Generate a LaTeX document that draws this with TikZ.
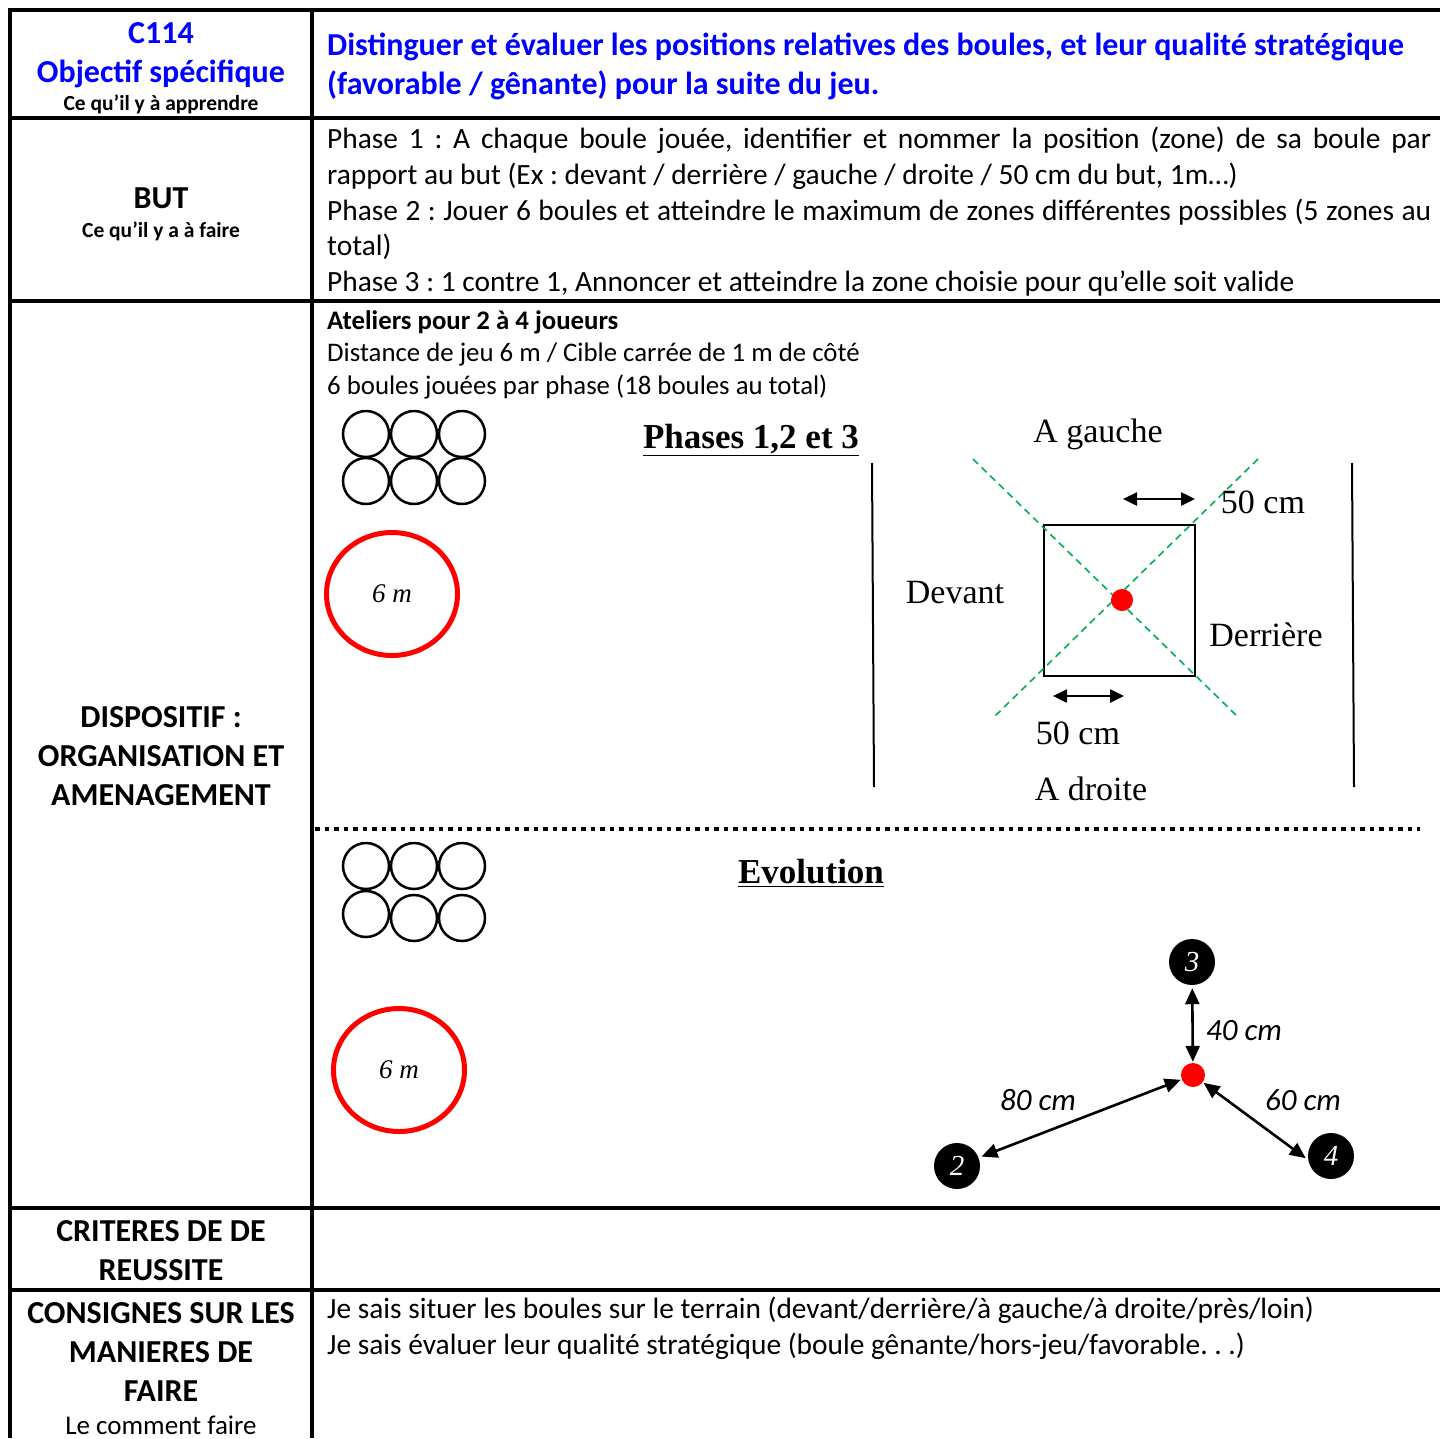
\documentclass[tikz,border=0pt]{standalone}
\usepackage{fontspec}
\setmainfont{Carlito}
\newfontfamily\serifcam{Liberation Serif}
\usepackage{xcolor}
\usepackage{tikz}
\usetikzlibrary{shapes.geometric, arrows.meta, positioning}
\definecolor{objblue}{RGB}{0,0,255}
\definecolor{zonegreen}{RGB}{0,176,80}
\definecolor{butred}{RGB}{255,0,0}
\frenchspacing

\begin{document}
\begin{tikzpicture}[x=1pt, y=-1pt,
        rule/.style={line width=3.8pt},
        titre/.style={font=\fontsize{32}{39}\selectfont\bfseries, text=objblue, inner sep=0pt},
        entete/.style={font=\fontsize{32}{39}\selectfont\bfseries, align=center, inner sep=0pt},
        petit/.style={font=\fontsize{21.5}{26}\selectfont\bfseries, inner sep=0pt},
        texte/.style={font=\fontsize{29.4}{35.7}\selectfont, inner sep=0pt},
        atelier/.style={font=\fontsize{26.8}{32.5}\selectfont, inner sep=0pt, align=left},
        boule/.style={circle, draw, line width=2.5pt, minimum size=46pt, inner sep=0pt},
        cible/.style={ellipse, draw=butred, line width=5pt, minimum width=131pt, minimum height=123pt, inner sep=0pt, font=\fontsize{27}{30}\selectfont\serifcam\itshape},
        zone/.style={font=\fontsize{34}{38}\selectfont\serifcam, inner sep=0pt},
        titreschema/.style={font=\fontsize{35}{40}\selectfont\serifcam\bfseries, inner sep=0pt},
        diag/.style={zonegreen, line width=1.6pt, dash pattern=on 7pt off 5pt},
        cote/.style={{Triangle[length=14pt,width=13pt]}-{Triangle[length=14pt,width=13pt]}, line width=2.5pt},
        joueur/.style={circle, fill=black, minimum size=46pt, inner sep=0pt, text=white, font=\fontsize{29}{32}\selectfont\serifcam\itshape},
        mesure/.style={font=\fontsize{31}{36}\selectfont\itshape, inner sep=0pt},
        fleche/.style={{Triangle[length=16pt,width=14pt]}-{Triangle[length=16pt,width=14pt]}, line width=2.6pt, shorten >=3pt, shorten <=1pt}
    ]
    \fill[white] (0,0) rectangle (1440,1438);
    \useasboundingbox (0,0) rectangle (1440,1438);

    % grille du tableau
    \draw[rule] (8,10) -- (1440,10);
    \draw[rule] (10,8) -- (10,1438);
    \draw[rule] (312,10) -- (312,1438);
    \foreach \y in {118,301,1208,1290}
        \draw[rule] (10,\y) -- (1440,\y);

    % colonne de gauche
    \node[titre, anchor=base] (code) at (161,43) {C114};
    \node[titre, anchor=base] (objectif) at (161,82) {Objectif spécifique};
    \node[petit, anchor=base] (apprendre) at (161,110) {Ce qu’il y à apprendre};
    \node[entete, anchor=base] (but) at (161,208) {BUT};
    \node[petit, anchor=base] (faire) at (161,237) {Ce qu’il y a à faire};
    \node[entete, anchor=north] (dispositif) at (161,706) {DISPOSITIF :\\ORGANISATION ET\\AMENAGEMENT};
    \node[entete, anchor=north] (criteres) at (161,1220) {CRITERES DE DE\\REUSSITE};
    \node[entete, anchor=north] (consignes) at (161,1302) {CONSIGNES SUR LES\\MANIERES DE\\FAIRE};
    \node[font=\fontsize{27}{30}\selectfont, inner sep=0pt, anchor=base] (comment) at (161,1434) {Le comment faire};

    % colonne de droite
    \node[titre, anchor=north west, align=left] (enonce) at (327,33)
        {Distinguer et évaluer les positions relatives des boules, et leur qualité stratégique\\(favorable / gênante) pour la suite du jeu.};
    \node[texte, anchor=north west, text width=1104pt, align=justify] (phasestxt) at (327,127)
        {Phase 1~: A chaque boule jouée, identifier et nommer la position (zone) de sa boule par\linebreak
         rapport au but (Ex~: devant / derrière / gauche / droite / 50 cm du but, 1m…)\\
         Phase 2~: Jouer 6 boules et atteindre le maximum de zones différentes possibles (5 zones au\linebreak
         total)\\
         Phase 3~: 1 contre 1, Annoncer et atteindre la zone choisie pour qu’elle soit valide};
    \node[atelier, anchor=north west] (ateliers) at (327,310)
        {\textbf{Ateliers pour 2 à 4 joueurs}\\Distance de jeu 6 m / Cible carrée de 1 m de côté\\6 boules jouées par phase (18 boules au total)};
    \node[texte, anchor=north west, align=left] (savoir) at (327,1297)
        {Je sais situer les boules sur le terrain (devant/derrière/à gauche/à droite/près/loin)\\
         Je sais évaluer leur qualité stratégique (boule gênante/hors-jeu/favorable. . .)};

    % schema phases 1,2 et 3
    \foreach \i/\x in {1/366,2/414,3/462} {
        \node[boule] (ha\i) at (\x,434) {};
        \node[boule] (hb\i) at (\x,481) {};
    }
    \node[cible] (cible1) at (392,594) {6 m};
    \node[titreschema] (phases) at (751,440) {\underline{Phases 1,2 et 3}};
    \draw[line width=2pt] (872,463) -- (874,787);
    \draw[line width=2pt] (1352,463) -- (1354,787);
    \node[draw, line width=2pt, minimum size=151pt, inner sep=0pt] (carre) at (1119.5,600.5) {};
    \draw[diag] (973,459) -- (1238,717);
    \draw[diag] (1258,459) -- (994,717);
    \node[circle, fill=butred, minimum size=22pt, inner sep=0pt] (but1) at (1122,600) {};
    \coordinate (ch1) at (1123,499);
    \coordinate (ch2) at (1195,499);
    \coordinate (cb1) at (1053,696);
    \coordinate (cb2) at (1124,696);
    \draw[cote] (ch1) -- (ch2);
    \draw[cote] (cb1) -- (cb2);
    \node[zone] (gauche) at (1098,434) {A gauche};
    \node[zone] (cotehaut) at (1263,502) {50 cm};
    \node[zone] (devant) at (955,593) {Devant};
    \node[zone] (derriere) at (1266,635) {Derrière};
    \node[zone] (cotebas) at (1078,733) {50 cm};
    \node[zone] (droite) at (1091,789) {A droite};

    \draw[line width=4pt, dash pattern=on 4.5pt off 5pt] (315,829) -- (1420,829);

    % schema evolution
    \foreach \i/\x/\y in {1/366/914,2/414/918,3/462/918} {
        \node[boule] (ea\i) at (\x,866) {};
        \node[boule] (eb\i) at (\x,\y) {};
    }
    \node[cible] (cible2) at (399,1070) {6 m};
    \node[titreschema] (evolution) at (811,873) {\underline{Evolution}};
    \node[circle, fill=butred, minimum size=24pt, inner sep=0pt] (but2) at (1193,1075) {};
    \node[joueur] (j3) at (1192,962) {3};
    \node[joueur] (j2) at (957,1166) {2};
    \node[joueur] (j4) at (1331,1156) {4};
    \draw[fleche] (but2) -- (j3);
    \draw[fleche] (but2) -- (j2);
    \draw[fleche] (but2) -- (j4.190);
    \node[mesure] (d3) at (1244,1031) {40 cm};
    \node[mesure] (d2) at (1038,1100) {80 cm};
    \node[mesure] (d4) at (1303,1100) {60 cm};
\end{tikzpicture}
\end{document}
